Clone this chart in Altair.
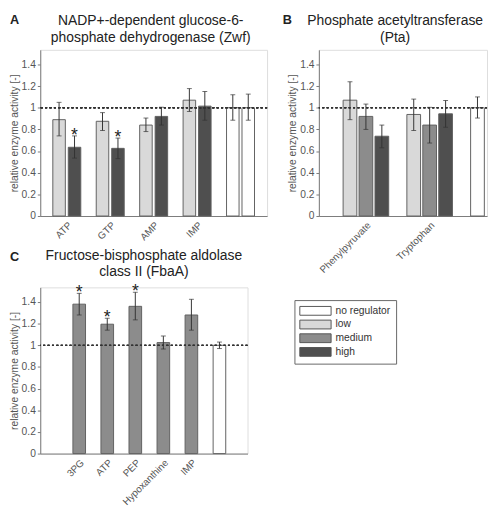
import altair as alt
import pandas as pd

levels = ["no regulator", "low", "medium", "high"]
level_colors = ["#ffffff", "#d9d9d9", "#8c8c8c", "#4f4f4f"]
panel_letters = ["A", "B", "C"]
panel_titles = [
    ["NADP+-dependent glucose-6-", "phosphate dehydrogenase (Zwf)"],
    ["Phosphate acetyltransferase", "(Pta)"],
    ["Fructose-bisphosphate aldolase", "class II (FbaA)"],
]
y_ticks = [0, 0.2, 0.4, 0.6, 0.8, 1, 1.2, 1.4]

# Panel A
a_reg = ["ATP", "ATP", "GTP", "GTP", "AMP", "AMP", "IMP", "IMP", "control", "control"]
a_level = ["low", "high", "low", "high", "low", "high", "low", "high", "no regulator", "no regulator"]
a_slot = [1, 2, 1, 2, 1, 2, 1, 2, 1, 2]
a_value = [0.89, 0.635, 0.875, 0.625, 0.84, 0.92, 1.07, 1.015, 1.0, 1.0]
a_lo = [0.74, 0.535, 0.79, 0.53, 0.78, 0.84, 0.965, 0.885, 0.885, 0.885]
a_hi = [1.05, 0.74, 0.955, 0.72, 0.905, 1.005, 1.177, 1.15, 1.12, 1.126]
a_sig = ["", "*", "", "*", "", "", "", "", "", ""]

# Panel B
b_reg = ["Phenylpyruvate"] * 3 + ["Tryptophan"] * 3 + ["control"]
b_level = ["low", "medium", "high", "low", "medium", "high", "no regulator"]
b_value = [1.07, 0.92, 0.737, 0.938, 0.84, 0.944, 1.0]
b_lo = [0.89, 0.80, 0.63, 0.79, 0.674, 0.82, 0.905]
b_hi = [1.24, 1.034, 0.84, 1.08, 1.004, 1.067, 1.10]
b_sig = ["", "", "", "", "", "", ""]

# Panel C
c_reg = ["3PG", "ATP", "PEP", "Hypoxanthine", "IMP", "control"]
c_level = ["medium", "medium", "medium", "medium", "medium", "no regulator"]
c_value = [1.38, 1.195, 1.36, 1.025, 1.28, 1.0]
c_lo = [1.28, 1.14, 1.235, 0.965, 1.14, 0.97]
c_hi = [1.48, 1.25, 1.49, 1.085, 1.425, 1.03]
c_sig = ["*", "*", "*", "", "", ""]

FONT = "Liberation Sans"
GRAY_TXT = "#555555"
AX = "#7a7a7a"
LABEL_FS = 10
TITLE_FS = 14.2
YMAX = 1.535


def uniq(seq):
    out = []
    for s in seq:
        if s not in out:
            out.append(s)
    return out


df_a = pd.DataFrame({"key": a_reg, "slot": a_slot, "level": a_level,
                     "value": a_value, "lo": a_lo, "hi": a_hi, "sig": a_sig})
b_key = [r + "|" + l for r, l in zip(b_reg, b_level)]
df_b = pd.DataFrame({"key": b_key, "level": b_level,
                     "value": b_value, "lo": b_lo, "hi": b_hi, "sig": b_sig})
df_c = pd.DataFrame({"key": c_reg, "level": c_level,
                     "value": c_value, "lo": c_lo, "hi": c_hi, "sig": c_sig})

# B: one band per bar, with an empty spacer band between the regulator groups
b_domain = []
for i, r in enumerate(uniq(b_reg)):
    if i > 0:
        b_domain.append("gap%d" % i)
    b_domain += [k for k in b_key if k.startswith(r + "|")]

legend = alt.Legend(
    orient="none", legendX=260, legendY=256, title=None,
    symbolType="M-2.909,-0.818H2.909V0.818H-2.909Z", symbolSize=121,
    symbolOffset=10.5, labelOffset=14.5,
    symbolStrokeColor="#555555", symbolStrokeWidth=1, symbolOpacity=1,
    labelFontSize=10.5, labelFont=FONT, labelColor="#333333", rowPadding=0,
    strokeColor="#666666", padding=5, fillColor="white")

y_axis = alt.Axis(values=y_ticks, format=".1~f", title="relative enzyme activity [-]",
                  titleFontWeight="normal", titleFontSize=10.5, titleFont=FONT,
                  titleColor=GRAY_TXT, titlePadding=2, labelColor=GRAY_TXT,
                  labelFontSize=10.5, labelFont=FONT, labelPadding=2,
                  labelOverlap=False, tickSize=3, tickColor=AX, domainColor=AX,
                  grid=False)


def panel(df, domain, label_expr, title, letter, width, height, xscale,
          offset_scale, title_x, title_y, letter_xy, with_legend=False):
    x_axis = alt.Axis(title=None, labelAngle=-45, ticks=False, labelColor=GRAY_TXT,
                      labelFontSize=LABEL_FS, labelFont=FONT, domainColor=AX,
                      labelPadding=4, labelExpr=label_expr)
    x_enc = alt.X("key:N", scale=alt.Scale(domain=domain, **xscale), axis=x_axis)
    y_scale = alt.Scale(domain=[0, YMAX], nice=False)

    def Y(field):
        return alt.Y(field, scale=y_scale, axis=y_axis)

    def enc(**kw):
        d = dict(x=x_enc)
        if offset_scale is not None:
            d["xOffset"] = alt.XOffset("slot:O", scale=offset_scale)
        d.update(kw)
        return d

    base = alt.Chart(df)
    bars = base.mark_bar(stroke="#606060", strokeWidth=1).encode(
        **enc(y=Y("value:Q"),
              fill=alt.Fill("level:N", scale=alt.Scale(domain=levels, range=level_colors),
                            legend=legend if with_legend else None)))
    err = base.mark_rule(color="#333333", strokeWidth=1).encode(**enc(y=Y("lo:Q"), y2="hi:Q"))
    cap_lo = base.mark_tick(color="#333333", thickness=1, size=5).encode(**enc(y=Y("lo:Q")))
    cap_hi = base.mark_tick(color="#333333", thickness=1, size=5).encode(**enc(y=Y("hi:Q")))
    stars = base.transform_filter("datum.sig != ''").mark_text(
        fontSize=18, font=FONT, color="#222222", baseline="alphabetic", dy=5
    ).encode(**enc(y=Y("hi:Q"), text="sig:N"))
    ref = alt.Chart(df).mark_rule(color="#333333", strokeWidth=1, strokeDash=[2, 2.5]).encode(
        y=alt.datum(1, scale=y_scale, axis=y_axis))
    head_df = pd.DataFrame({"letter": [letter], "t1": [title[0]], "t2": [title[1]]})
    letter_mark = alt.Chart(head_df).mark_text(
        fontSize=13, fontWeight="bold", font=FONT, color="#222222",
        align="left", baseline="top").encode(
        x=alt.value(letter_xy[0]), y=alt.value(letter_xy[1]), text="letter:N")
    t1 = alt.Chart(head_df).mark_text(
        fontSize=TITLE_FS, font=FONT, color="#222222", align="center", baseline="top"
    ).encode(x=alt.value(title_x), y=alt.value(title_y), text="t1:N")
    t2 = alt.Chart(head_df).mark_text(
        fontSize=TITLE_FS, font=FONT, color="#222222", align="center", baseline="top"
    ).encode(x=alt.value(title_x), y=alt.value(title_y + 16.5), text="t2:N")
    return alt.layer(bars, err, cap_lo, cap_hi, stars, ref, letter_mark, t1, t2).properties(
        width=width, height=height)


hide_control = "datum.value == 'control' ? '' : datum.value"
b_labels = ("indexof(datum.value, '|medium') > 0 ? "
            "substring(datum.value, 0, indexof(datum.value, '|')) : ''")

pa = panel(df_a, uniq(a_reg), hide_control, panel_titles[0], panel_letters[0], 232, 170,
           dict(paddingInner=0.356, paddingOuter=0.289),
           alt.Scale(paddingInner=0.19, paddingOuter=0), 113, -36, (-31, -36),
           with_legend=True)

pb = panel(df_b, b_domain, b_labels, panel_titles[1], panel_letters[1], 172, 170,
           dict(paddingInner=0.14, paddingOuter=0.845, align=0.9),
           None, 78, -36, (-37, -36))

pc = panel(df_c, uniq(c_reg), hide_control, panel_titles[2], panel_letters[2], 212, 170,
           dict(paddingInner=0.55, paddingOuter=0.97, align=0.6),
           None, 106, -39, (-31, -37))

left = alt.vconcat(pa, pc, spacing=6)
chart = alt.hconcat(left, pb, spacing=14).properties(
    padding={"left": 0, "top": 0, "right": 0, "bottom": 0}
).configure_view(stroke=None).configure(font=FONT)

chart.save("out.html", embed_options={"renderer": "svg", "actions": False})
